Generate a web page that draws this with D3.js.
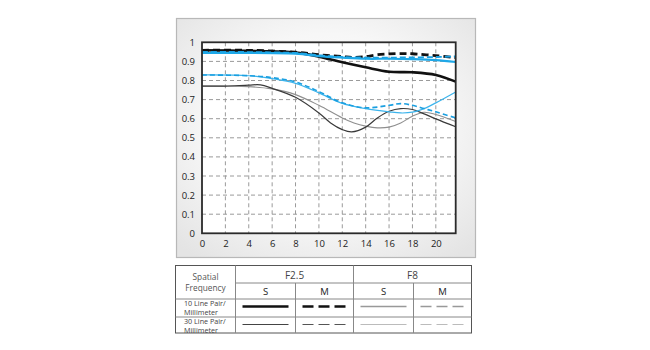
<!DOCTYPE html>
<html><head><meta charset="utf-8">
<script src="https://cdn.jsdelivr.net/npm/d3@7/dist/d3.min.js"></script>
<style>body{margin:0;background:#fff;}svg{display:block;}</style>
</head><body>
<svg id="c" width="650" height="350"></svg>
<script>
const xTicks = [0,2,4,6,8,10,12,14,16,18,20];
const yTicks = [0,0.1,0.2,0.3,0.4,0.5,0.6,0.7,0.8,0.9,1];
const yTickLabels = ["0","0.1","0.2","0.3","0.4","0.5","0.6","0.7","0.8","0.9","1"];

const f25S10x = [0,4,8,10,12,14,16,18,20,21.7];
const f25S10y = [0.958,0.955,0.946,0.925,0.895,0.869,0.846,0.843,0.829,0.794];
const f25M10x = [0,4,8,10,12,13,14,15,17,18,20,21.7];
const f25M10y = [0.958,0.958,0.948,0.935,0.925,0.921,0.925,0.935,0.941,0.94,0.93,0.92];
const f8S10x = [0,8,10,12,14,16,18,20,21.7];
const f8S10y = [0.944,0.941,0.928,0.92,0.914,0.914,0.912,0.907,0.897];
const f8M10x = [0,8,10,12,14,16,18,20,21.7];
const f8M10y = [0.95,0.944,0.932,0.923,0.92,0.92,0.921,0.923,0.926];
const f8M30x = [0,4,6,8,10,12,14,16,17,18,19,20,21.7];
const f8M30y = [0.829,0.825,0.815,0.792,0.742,0.683,0.657,0.67,0.679,0.67,0.653,0.636,0.604];
const f8S30x = [0,4,6,8,10,12,14,16,17,18,19,20,21.7];
const f8S30y = [0.829,0.825,0.81,0.785,0.735,0.68,0.653,0.636,0.63,0.634,0.653,0.683,0.74];
const f25S30x = [0,2,4,5,6,8,10,11,12,12.8,14,15,16,17,18,19,20,21.7];
const f25S30y = [0.771,0.771,0.776,0.777,0.759,0.712,0.63,0.578,0.543,0.531,0.556,0.604,0.639,0.653,0.648,0.625,0.599,0.558];
const f25M30x = [0,4,6,8,10,12,13,14,15,16,17,18,19,20,21.7];
const f25M30y = [0.771,0.768,0.756,0.726,0.67,0.604,0.578,0.561,0.552,0.556,0.578,0.613,0.634,0.622,0.585];

const tableCols = ["F2.5","F8"];
const tableSub = ["S","M","S","M"];
const tableRows = [["10 Line Pair/","Millimeter"],["30 Line Pair/","Millimeter"]];

const svg = d3.select("#c");
const defs = svg.append("defs");
const grad = defs.append("radialGradient").attr("id","bg").attr("cx","50%").attr("cy","45%").attr("r","70%");
grad.append("stop").attr("offset","0%").attr("stop-color","#ffffff");
grad.append("stop").attr("offset","55%").attr("stop-color","#f7f7f7");
grad.append("stop").attr("offset","100%").attr("stop-color","#e4e4e4");

svg.append("rect").attr("x",176.5).attr("y",18.5).attr("width",299).attr("height",239)
  .attr("fill","url(#bg)").attr("stroke","#b8b8b8").attr("stroke-width",1.2);

const L = 202, R = 455.7, T = 42.3, B = 233.3;
const x = d3.scaleLinear().domain([0,21.7]).range([L,R]);
const y = d3.scaleLinear().domain([0,1]).range([B,T]);

svg.append("rect").attr("x",L).attr("y",T).attr("width",R-L).attr("height",B-T).attr("fill","#fff");

const g = svg.append("g");
g.selectAll(".vg").data(xTicks.filter(d=>d>0)).join("line")
  .attr("x1",d=>x(d)).attr("x2",d=>x(d)).attr("y1",T).attr("y2",B)
  .attr("stroke","#9a9a9a").attr("stroke-width",1).attr("stroke-dasharray","4,3");
g.selectAll(".hg").data(yTicks.filter(d=>d>0&&d<1)).join("line")
  .attr("x1",L).attr("x2",R).attr("y1",d=>y(d)).attr("y2",d=>y(d))
  .attr("stroke","#9a9a9a").attr("stroke-width",1).attr("stroke-dasharray","4,3");

const xAxis = d3.axisBottom(x).tickValues(xTicks).tickSize(0).tickPadding(7).tickFormat(d3.format("d"));
const yAxis = d3.axisLeft(y).tickValues(yTicks).tickSize(0).tickPadding(7).tickFormat((d,i)=>yTickLabels[i]);
const gx = svg.append("g").attr("transform",`translate(0,${B})`).call(xAxis);
const gy = svg.append("g").attr("transform",`translate(${L},0)`).call(yAxis);
[gx,gy].forEach(a=>{a.select(".domain").remove();
  a.selectAll("text").attr("font-family","'Open Sans',sans-serif").attr("font-size",9.5).attr("fill","#222");});

const line = d3.line().x(d=>x(d[0])).y(d=>y(d[1])).curve(d3.curveCatmullRom.alpha(0.5));
const zip = (a,b)=>a.map((v,i)=>[v,b[i]]);
const series = [
  {x:f25M30x,y:f25M30y,c:"#8f8f8f",w:1.1,d:null},
  {x:f25S30x,y:f25S30y,c:"#3a3a3a",w:1.2,d:null},
  {x:f8S30x,y:f8S30y,c:"#3cb4ec",w:1.2,d:null},
  {x:f8M30x,y:f8M30y,c:"#1a9fe0",w:1.6,d:"5,3"},
  {x:f25S10x,y:f25S10y,c:"#111",w:2.6,d:null},
  {x:f25M10x,y:f25M10y,c:"#111",w:2.8,d:"7,4"},
  {x:f8M10x,y:f8M10y,c:"#1a9fe0",w:1.8,d:"6,3"},
  {x:f8S10x,y:f8S10y,c:"#1ea8e8",w:2.2,d:null}
];
svg.append("g").selectAll("path").data(series).join("path")
  .attr("d",s=>line(zip(s.x,s.y))).attr("fill","none")
  .attr("stroke",s=>s.c).attr("stroke-width",s=>s.w)
  .attr("stroke-dasharray",s=>s.d);

svg.append("rect").attr("x",L).attr("y",T).attr("width",R-L).attr("height",B-T)
  .attr("fill","none").attr("stroke","#2a2a2a").attr("stroke-width",1.8);

const tL=175.5, tR=471.5, tT=265.5, r1=283, r2=299, r3=317, tB=333;
const c1=235.5, cs=[235.5,295.5,353.5,413.5,471.5];
const tg = svg.append("g").attr("stroke","#666").attr("stroke-width",1).attr("fill","none");
tg.append("rect").attr("x",tL).attr("y",tT).attr("width",tR-tL).attr("height",tB-tT).attr("stroke","#555");
[[c1,tT,c1,tB],[cs[2],tT,cs[2],tB],[cs[1],r1,cs[1],tB],[cs[3],r1,cs[3],tB],
 [c1,r1,tR,r1],[tL,r2,tR,r2],[tL,r3,tR,r3]].forEach(l=>{
  tg.append("line").attr("x1",l[0]).attr("y1",l[1]).attr("x2",l[2]).attr("y2",l[3]).attr("stroke","#888");
});
const txt = (s,xx,yy,sz,anchor,col)=>svg.append("text").text(s).attr("x",xx).attr("y",yy)
  .attr("font-family","'Open Sans',sans-serif").attr("font-size",sz).attr("text-anchor",anchor||"middle")
  .attr("fill",col||"#444").attr("dominant-baseline","central");
txt("Spatial",205.5,276.3,8.3,"middle","#555");
txt("Frequency",205.5,287.3,8.3,"middle","#555");
tableCols.forEach((c,i)=>txt(c,(cs[i*2]+cs[i*2+2])/2,274.5,10,"middle","#444"));
tableSub.forEach((s,i)=>txt(s,(cs[i]+cs[i+1])/2,291,9.5,"middle","#222"));
tableRows.forEach((r,i)=>{
  const base = i===0?303.3:321.3;
  txt(r[0],184,base,7.2,"start","#444");
  txt(r[1],184,base+8.7,7.2,"start","#444");
});
const legendStyles = [
  [{c:"#111",w:2.4,d:null},{c:"#111",w:2.6,d:"11,5"},{c:"#999",w:1.4,d:null},{c:"#999",w:1.4,d:"11,5"}],
  [{c:"#444",w:1,d:null},{c:"#555",w:1,d:"11,5"},{c:"#bbb",w:1,d:null},{c:"#bbb",w:1,d:"11,5"}]
];
legendStyles.forEach((row,ri)=>{
  const yy = ri===0?306.5:324.5;
  row.forEach((s,ci)=>{
    svg.append("line").attr("x1",cs[ci]+7).attr("x2",cs[ci+1]-7).attr("y1",yy).attr("y2",yy)
      .attr("stroke",s.c).attr("stroke-width",s.w).attr("stroke-dasharray",s.d);
  });
});
</script>
</body></html>
